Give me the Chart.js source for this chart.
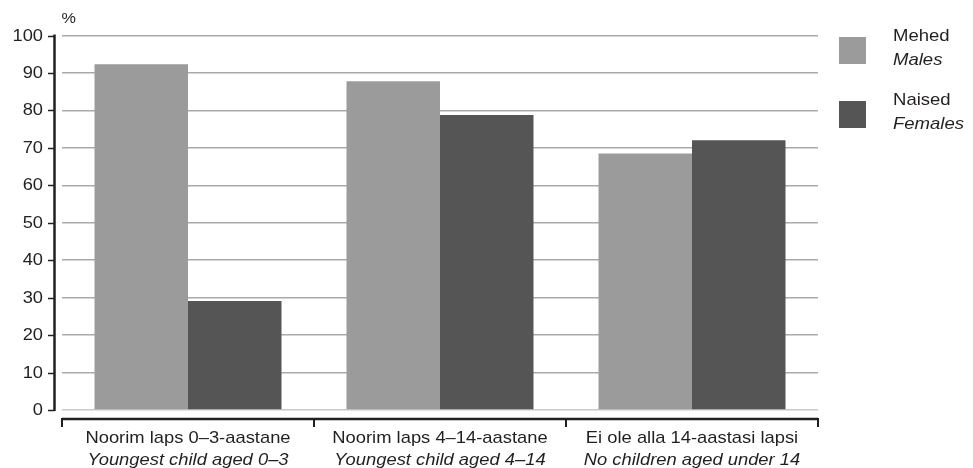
<!DOCTYPE html>
<html>
<head>
<meta charset="utf-8">
<script src="https://cdn.jsdelivr.net/npm/chart.js@4/dist/chart.umd.min.js"></script>
<style>
  html, body { margin: 0; padding: 0; background: #ffffff; }
  #wrap { position: relative; width: 973px; height: 468px; }
  canvas { display: block; }
</style>
</head>
<body>
<div id="wrap"><canvas id="c" width="973" height="468"></canvas></div>
<script>
// ---- data ----
const categoriesEt = ['Noorim laps 0–3-aastane', 'Noorim laps 4–14-aastane', 'Ei ole alla 14-aastasi lapsi'];
const categoriesEn = ['Youngest child aged 0–3', 'Youngest child aged 4–14', 'No children aged under 14'];
const seriesNamesEt = ['Mehed', 'Naised'];
const seriesNamesEn = ['Males', 'Females'];
const males = [92.3, 87.8, 68.5];
const females = [29.1, 78.8, 72.0];
const yTicks = [0, 10, 20, 30, 40, 50, 60, 70, 80, 90, 100];
const unitLabel = '%';

// ---- styles ----
const colMales = '#9b9b9b';
const colFemales = '#555555';
const textCol = '#231f20';
const axisCol = '#231f20';
const FONT = '"Liberation Sans", Arial, Helvetica, sans-serif';

function sText(ctx, txt, x, y, align, sx) {
  ctx.save();
  ctx.translate(x, y);
  ctx.scale(sx, 1);
  ctx.textAlign = align;
  ctx.fillText(txt, 0, 0);
  ctx.restore();
}

const decorPlugin = {
  id: 'decor',
  afterDraw(chart) {
    const ctx = chart.ctx;
    const y = chart.scales.y;
    const x = chart.scales.x;
    const area = chart.chartArea;
    ctx.save();
    // y axis line with left ticks
    const axX = 54.5;
    ctx.strokeStyle = axisCol;
    ctx.lineWidth = 2.5;
    ctx.beginPath();
    ctx.moveTo(axX, y.getPixelForValue(100) - 1);
    ctx.lineTo(axX, y.getPixelForValue(0) + 1);
    ctx.stroke();
    ctx.lineWidth = 1.5;
    ctx.fillStyle = textCol;
    ctx.textBaseline = 'middle';
    ctx.font = '16px ' + FONT;
    y.ticks.forEach(t => {
      const py = Math.round(y.getPixelForValue(t.value)) + 0.5;
      ctx.beginPath();
      ctx.moveTo(48, py);
      ctx.lineTo(axX, py);
      ctx.stroke();
      sText(ctx, String(t.value), 43, py, 'right', 1.14);
    });
    // bracket under x axis
    const by = 419;
    ctx.lineWidth = 2.5;
    ctx.beginPath();
    ctx.moveTo(area.left, by);
    ctx.lineTo(area.right, by);
    ctx.stroke();
    const n = categoriesEt.length;
    const step = (area.right - area.left) / n;
    ctx.lineWidth = 2;
    for (let i = 0; i <= n; i++) {
      const px = area.left + step * i;
      ctx.beginPath();
      ctx.moveTo(px, by - 1);
      ctx.lineTo(px, by + 8);
      ctx.stroke();
    }
    // category labels
    categoriesEt.forEach((lab, i) => {
      const cx = x.getPixelForValue(i);
      ctx.font = '17px ' + FONT;
      sText(ctx, lab, cx, 438, 'center', 1.08);
      ctx.font = 'italic 17px ' + FONT;
      sText(ctx, categoriesEn[i], cx, 460, 'center', 1.08);
    });
    // unit label
    ctx.font = '15px ' + FONT;
    sText(ctx, unitLabel, 61.5, 18.5, 'left', 1.08);
    // legend
    const cols = [colMales, colFemales];
    const legTop = [37, 101];
    seriesNamesEt.forEach((nm, i) => {
      ctx.fillStyle = cols[i];
      ctx.fillRect(839, legTop[i], 27, 27);
      ctx.fillStyle = textCol;
      ctx.font = '17px ' + FONT;
      sText(ctx, nm, 893, legTop[i] - 0.5, 'left', 1.09);
      ctx.font = 'italic 17px ' + FONT;
      sText(ctx, seriesNamesEn[i], 893, legTop[i] + 23.5, 'left', 1.09);
    });
    ctx.restore();
  }
};

new Chart(document.getElementById('c'), {
  type: 'bar',
  data: {
    labels: categoriesEt,
    datasets: [
      { label: seriesNamesEt[0], data: males, backgroundColor: colMales, borderWidth: 0 },
      { label: seriesNamesEt[1], data: females, backgroundColor: colFemales, borderWidth: 0 }
    ]
  },
  options: {
    responsive: false,
    animation: false,
    devicePixelRatio: 1,
    layout: { padding: { left: 0, right: 155, top: 35.5, bottom: 0 } },
    plugins: { legend: { display: false }, tooltip: { enabled: false } },
    datasets: { bar: { categoryPercentage: 0.742, barPercentage: 1.0 } },
    scales: {
      x: {
        grid: { display: false, drawTicks: false },
        border: { display: false },
        ticks: { display: false },
        afterFit(s) { s.height = 58; }
      },
      y: {
        min: 0, max: 100,
        afterBuildTicks(s) { s.ticks = yTicks.map(v => ({ value: v })); },
        afterFit(s) { s.width = 62; },
        border: { display: false },
        grid: {
          drawTicks: false,
          lineWidth: 1.5,
          color: ctx => ctx.tick && ctx.tick.value === 0 ? '#c8c8c8' : '#a9a9a9'
        },
        ticks: { display: false }
      }
    }
  },
  plugins: [decorPlugin]
});
</script>
</body>
</html>
